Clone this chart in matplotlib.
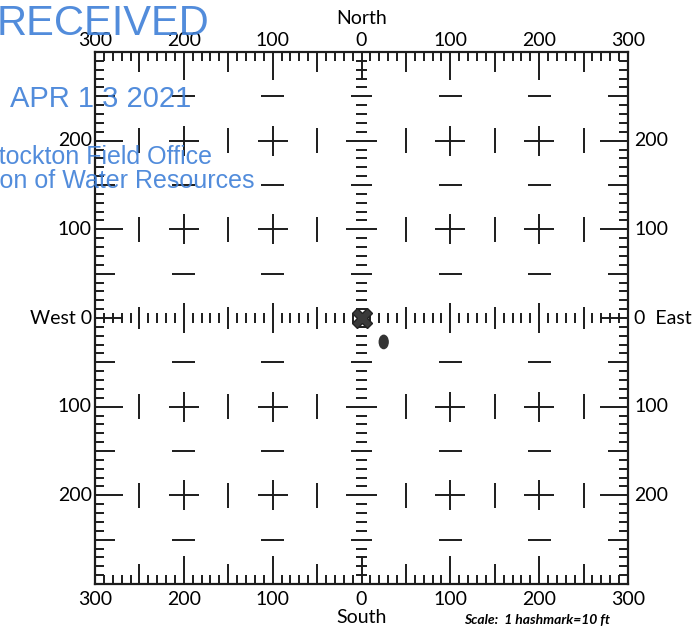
import numpy as np
import matplotlib.pyplot as plt
from matplotlib.patches import Ellipse

# grid extent and labels (ft)
ext = 300
top_ticks = [-300, -200, -100, 0, 100, 200, 300]
top_labels = ['300', '200', '100', '0', '100', '200', '300']
side_ticks = [200, 100, 0, -100, -200]
left_labels = ['200', '100', 'West 0', '100', '200']
right_labels = ['200', '100', '0  East', '100', '200']

# well location (X) and the dot
well_x, well_y = [0], [0]
dot_x, dot_y = 25, -27

ink = '#1c1c1c'
blue = '#3f80d8'
font = 'Lato'

fig = plt.figure(figsize=(6.98, 6.27), dpi=100)
ax = fig.add_axes([95/698, 1 - 584/627, 533/698, 532/627])
ax.set_xlim(-ext, ext)
ax.set_ylim(-ext, ext)
ax.set_xticks([])
ax.set_yticks([])
for s in ax.spines.values():
    s.set_linewidth(1.6)
    s.set_color(ink)

segs = []
pos = np.arange(-ext + 10, ext, 10)
# hashmarks on the frame
for t in pos:
    L = 32 if t % 100 == 0 else (22 if t % 50 == 0 else 10)
    segs.append([(t, ext), (t, ext - L)])
    segs.append([(t, -ext), (t, -ext + L)])
    segs.append([(-ext, t), (-ext + L, t)])
    segs.append([(ext, t), (ext - L, t)])
# hashmarks on the center lines
for t in pos:
    if t == 0:
        continue
    h = 17 if t % 100 == 0 else (12 if t % 50 == 0 else 6)
    segs.append([(-h, t), (h, t)])
    segs.append([(t, -h), (t, h)])
# interior crosses and bars
for gx in [-200, -100, 100, 200]:
    for gy in [-200, -100, 100, 200]:
        segs.append([(gx - 17, gy), (gx + 17, gy)])
        segs.append([(gx, gy - 17), (gx, gy + 17)])
    for gy in [-250, -150, -50, 50, 150, 250]:
        segs.append([(gx - 13, gy), (gx + 13, gy)])
for gx in [-250, -150, -50, 50, 150, 250]:
    for gy in [-200, -100, 100, 200]:
        segs.append([(gx, gy - 14), (gx, gy + 14)])

for s in segs:
    ax.plot([s[0][0], s[1][0]], [s[0][1], s[1][1]], color=ink, lw=1.4,
            solid_capstyle='butt')

ax.plot(well_x, well_y, marker='X', ms=15, color='#3a3a3a', mec='#222222', mew=1)
ax.add_patch(Ellipse((dot_x, dot_y), 10, 15, color='#333333'))

# axis labels
for x, lab in zip(top_ticks, top_labels):
    ax.text(x, 313, lab, ha='center', va='center', fontsize=14, family=font, clip_on=False)
    ax.text(x, -318, lab, ha='center', va='center', fontsize=14, family=font, clip_on=False)
for y, lab in zip(side_ticks, left_labels):
    ax.text(-303.5, y, lab, ha='right', va='center', fontsize=14, family=font, clip_on=False)
for y, lab in zip(side_ticks, right_labels):
    ax.text(307, y, lab, ha='left', va='center', fontsize=14, family=font, clip_on=False)
ax.text(0, 338, 'North', ha='center', va='center', fontsize=14, family=font, clip_on=False)
ax.text(0, -338, 'South', ha='center', va='center', fontsize=14, family=font, clip_on=False)
ax.text(198, -341, 'Scale:  1 hashmark=10 ft', ha='center', va='center', fontsize=10,
        family=font, style='italic', weight='bold', clip_on=False)

# received stamp
fig.text(-3/698, 1 - 35/627, 'RECEIVED', fontsize=30, color=blue, family='Liberation Sans',
         va='baseline', ha='left', alpha=0.9)
fig.text(10/698, 1 - 107/627, 'APR 1 3 2021', fontsize=21, color=blue,
         family='Liberation Sans', va='baseline', ha='left', alpha=0.9)
fig.text(212/698, 1 - 164/627, 'Stockton Field Office', fontsize=18, color=blue,
         family='Liberation Sans', va='baseline', ha='right', alpha=0.9)
fig.text(255/698, 1 - 188/627, 'Division of Water Resources', fontsize=18, color=blue,
         family='Liberation Sans', va='baseline', ha='right', alpha=0.9)

fig.savefig('out.png', dpi=100)
